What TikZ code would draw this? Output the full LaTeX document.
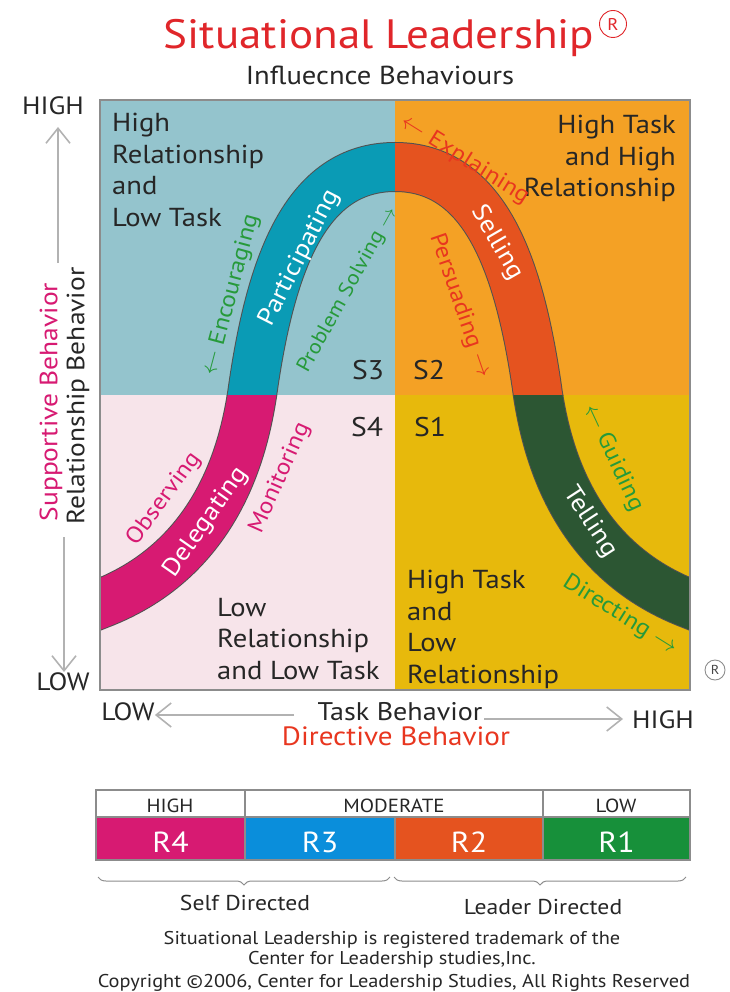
\documentclass[tikz,border=0pt]{standalone}
\usepackage{fontspec}
\setmainfont[FakeStretch=1.1]{PT Sans}
\usepackage{tikz}
\usetikzlibrary{arrows.meta, decorations.pathreplacing}

\definecolor{titleRed}{HTML}{E0262A}
\definecolor{bgTL}{HTML}{94C4CD}
\definecolor{bgTR}{HTML}{F4A125}
\definecolor{bgBL}{HTML}{F7E4EA}
\definecolor{bgBR}{HTML}{E7B90C}
\definecolor{bandTL}{HTML}{0A9BB5}
\definecolor{bandTR}{HTML}{E5531F}
\definecolor{bandBL}{HTML}{D71A72}
\definecolor{bandBR}{HTML}{2C5633}
\definecolor{leafGreen}{HTML}{269A3A}
\definecolor{sellRed}{HTML}{E8361F}
\definecolor{rBlue}{HTML}{0A8EDB}
\definecolor{rGreen}{HTML}{17903A}
\definecolor{inkGray}{HTML}{262626}
\definecolor{axisGray}{HTML}{B2B2B2}
\definecolor{edgeGray}{HTML}{8C8C8C}

\tikzset{%
  >={Straight Barb[length=15pt,width=24pt]},
  % Specifications for style of nodes:
          base/.style = {inner sep=0pt, text=inkGray},
      quadrant/.style = {base, align=left, font=\fontsize{26}{31.5}\selectfont},
     stylename/.style = {base, font=\fontsize{27}{30}\selectfont},
     axislabel/.style = {base, font=\fontsize{25}{27}\selectfont},
     bandlabel/.style = {inner sep=0pt, text=white, font=\fontsize{25}{25}\selectfont},
     sidelabel/.style = {inner sep=0pt, font=\fontsize{23}{23}\selectfont},
      smallcap/.style = {base, font=\fontsize{19}{20}\selectfont},
      readylbl/.style = {inner sep=0pt, text=white, font=\fontsize{29}{29}\selectfont},
     footlabel/.style = {base, font=\fontsize{18.5}{20}\selectfont},
       regmark/.style = {circle, inner sep=0pt, line width=0.9pt},
      axisline/.style = {draw=axisGray, line width=1.6pt},
     tableedge/.style = {draw=edgeGray, line width=1.2pt},
}
% centre line of the bell shaped band
\newcommand{\bellcurve}{(80,612) -- (100,604)
  .. controls (220,558) and (244,445) .. (252,395)
  .. controls (270,265) and (305,167) .. (395,167)
  .. controls (485,167) and (520,265) .. (538,395)
  .. controls (546,445) and (570,558) .. (690,604) -- (710,612)}

\begin{document}
\begin{tikzpicture}[x=1pt, y=-1pt]
  \useasboundingbox (0,0) rectangle (729,992);
  % Title
  \node (titleText) [base, text=titleRed, font=\fontsize{41}{44}\selectfont, anchor=base]
        at (379,49) {Situational Leadership};
  \node (titleReg)  [regmark, draw=titleRed, text=titleRed, minimum size=27pt,
                     font=\fontsize{17}{17}\selectfont] at (613,24) {R};
  \node (influText) [axislabel, font=\fontsize{26}{27}\selectfont, anchor=base]
        at (380,85) {Influecnce Behaviours};

  % Quadrants
  \fill[bgTL] (100,100) rectangle (395,395);
  \fill[bgTR] (395,100) rectangle (690,395);
  \fill[bgBL] (100,395) rectangle (395,690);
  \fill[bgBR] (395,395) rectangle (690,690);
  % the band, cut by each quadrant
  \foreach \qx/\qy/\bandcol in {100/100/bandTL, 395/100/bandTR,
                                100/395/bandBL, 395/395/bandBR} {
    \begin{scope}
      \clip (\qx,\qy) rectangle ++(295,295);
      \draw[line width=50pt, draw=inkGray!80] \bellcurve;
      \draw[line width=48pt, draw=\bandcol] \bellcurve;
    \end{scope}
  }
  \draw[draw=edgeGray, line width=1.5pt] (100,100) rectangle (690,690);

  % Quadrant texts
  \node (quadTL) [quadrant, anchor=north west] at (112,113)
        {High\\Relationship\\and\\Low Task};
  \node (quadTR) [quadrant, align=right, anchor=north east] at (676,115)
        {High Task\\and High\\Relationship};
  \node (quadBL) [quadrant, anchor=north west] at (217,598)
        {Low\\Relationship\\and Low Task};
  \node (quadBR) [quadrant, anchor=north west] at (407,570)
        {High Task\\and\\Low\\Relationship};
  \node (styleS3) [stylename] at (368,370) {S3};
  \node (styleS2) [stylename] at (429,370) {S2};
  \node (styleS4) [stylename] at (367,427) {S4};
  \node (styleS1) [stylename] at (430,427) {S1};

  % Labels along the band
  \node (encLbl)  [sidelabel, text=leafGreen, rotate=75] at (231,295)
        {$\leftarrow$ Encouraging};
  \node (partLbl) [bandlabel, rotate=63] at (300,258) {Participating};
  \node (probLbl) [sidelabel, text=leafGreen, rotate=61,
                   font=\fontsize{20.5}{21}\selectfont] at (348,290)
        {Problem Solving $\rightarrow$};
  \node (explLbl) [sidelabel, text=sellRed, rotate=-32] at (465,160)
        {$\leftarrow$ Explaining};
  \node (sellLbl) [bandlabel, rotate=-60] at (497,243) {Selling};
  \node (persLbl) [sidelabel, text=sellRed, rotate=-71] at (460,306)
        {Persuading $\rightarrow$};
  \node (obsLbl)  [sidelabel, text=bandBL, rotate=54] at (164,499) {Observing};
  \node (delLbl)  [bandlabel, rotate=55] at (206,522) {Delegating};
  \node (monLbl)  [sidelabel, text=bandBL, rotate=66] at (280,478) {Monitoring};
  \node (guidLbl) [sidelabel, text=leafGreen, rotate=-65] at (613,458)
        {$\leftarrow$ Guiding};
  \node (tellLbl) [bandlabel, rotate=-57] at (590,522) {Telling};
  \node (dirLbl)  [sidelabel, text=leafGreen, rotate=-32] at (620,615)
        {Directing $\rightarrow$};
  \node (regMark) [regmark, draw=edgeGray, text=inkGray!85, minimum size=20pt,
                   font=\fontsize{13}{13}\selectfont] at (715,670) {R};

  % Vertical axis
  \node (yHigh) [axislabel, anchor=base] at (53,115) {HIGH};
  \node (yLow)  [axislabel, anchor=base] at (63,690) {LOW};
  \node (suppLbl) [axislabel, text=bandBL, rotate=90] at (51,402)
        {Supportive Behavior};
  \node (relLbl)  [axislabel, rotate=90] at (78,396) {Relationship Behavior};
  \coordinate (yTopEnd) at (58,263);
  \coordinate (yBotEnd) at (64,537);
  \draw[axisline, ->] (yTopEnd) -- (58,127);
  \draw[axisline, ->] (yBotEnd) -- (64,672);

  % Horizontal axis
  \node (xLow)  [axislabel, anchor=base] at (128,720) {LOW};
  \node (xTask) [axislabel, anchor=base, font=\fontsize{25.5}{27}\selectfont]
        at (400,720) {Task Behavior};
  \node (xHigh) [axislabel, anchor=base] at (663,728) {HIGH};
  \node (xDir)  [axislabel, anchor=base, text=sellRed,
                 font=\fontsize{26.5}{27}\selectfont] at (396,745) {Directive Behavior};
  \coordinate (xHighTip) at (623,719);
  \draw[axisline, ->] (294,715) -- (xLow.east |- 0,715);
  \draw[axisline, ->] (484,719) -- (xHighTip);

  % Readiness table
  \draw[tableedge, fill=white] (96,790) rectangle (245,817);
  \draw[tableedge, fill=white] (245,790) rectangle (543,817);
  \draw[tableedge, fill=white] (543,790) rectangle (690,817);
  \node (hdHigh) [smallcap, anchor=base] at (170,812) {HIGH};
  \node (hdMod)  [smallcap, anchor=base] at (394,812) {MODERATE};
  \node (hdLow)  [smallcap, anchor=base] at (616,812) {LOW};
  \foreach \xa/\xb/\col/\lbl in {96/245/bandBL/R4, 245/395/rBlue/R3,
                                 395/543/bandTR/R2, 543/690/rGreen/R1} {
    \draw[tableedge, fill=\col] (\xa,817) rectangle (\xb,860);
    \node (cell\lbl) [readylbl, anchor=base] at ({(\xa+\xb)/2},852) {\lbl};
  }
  \draw[draw=edgeGray, line width=1pt, decorate,
        decoration={brace, amplitude=8pt}] (390,877) -- (98,877);
  \draw[draw=edgeGray, line width=1pt, decorate,
        decoration={brace, amplitude=8pt}] (686,877) -- (394,877);
  \node (selfDir)   [axislabel, font=\fontsize{21.5}{22}\selectfont, anchor=base]
        at (245,910) {Self Directed};
  \node (leaderDir) [axislabel, font=\fontsize{21.5}{22}\selectfont, anchor=base]
        at (543,914) {Leader Directed};

  % Footer
  \node (footA) [footlabel, anchor=base] at (392,944)
        {Situational Leadership is registered trademark of the};
  \node (footB) [footlabel, anchor=base] at (392,964)
        {Center for Leadership studies,Inc.};
  \node (footC) [footlabel, anchor=base] at (394,987)
        {Copyright ©2006, Center for Leadership Studies, All Rights Reserved};
\end{tikzpicture}
\end{document}
